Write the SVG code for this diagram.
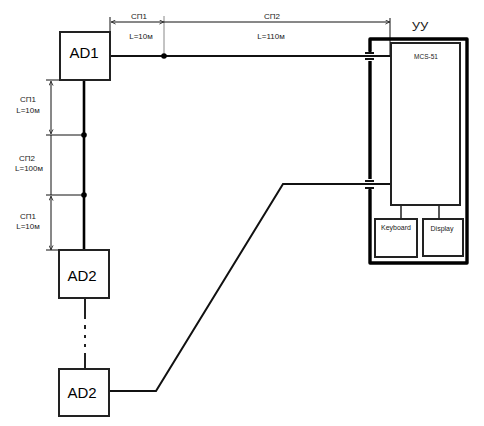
<svg xmlns="http://www.w3.org/2000/svg" width="484" height="426" viewBox="0 0 484 426">
<defs>
<marker id="a" viewBox="0 0 6 6" refX="6" refY="3" markerWidth="5" markerHeight="5" orient="auto-start-reverse"><path d="M0.5 0.5L5.5 3L0.5 5.5" fill="none" stroke="#222" stroke-width="1"/></marker>
</defs>
<style>
text{font-family:"Liberation Sans",Arial,sans-serif;fill:#222;text-anchor:middle}
.t{font-size:8px}
.n{font-size:15px;fill:#000}
.b{fill:#fff;stroke:#222;stroke-width:2}
.w{fill:none;stroke:#000;stroke-width:3.4;stroke-linecap:round;stroke-linejoin:round}
.d{fill:none;stroke:#111;stroke-width:1}
</style>
<rect width="484" height="426" fill="#fff"/>
<g id="connectors">
<path class="d" d="M110 17V32M390 18V56M46 80H84M46 135H84M46 195H84M46 250H60"/>
<path d="M164 16V56" fill="none" stroke="#888" stroke-width="1"/>
<path class="d" d="M111 22H164" marker-start="url(#a)" marker-end="url(#a)"/>
<path class="d" d="M164 22H390" marker-end="url(#a)"/>
<path class="d" d="M51 81V134" marker-start="url(#a)" marker-end="url(#a)"/>
<path class="d" d="M51 135V195"/>
<path class="d" d="M51 196V250" marker-start="url(#a)" marker-end="url(#a)"/>
<path d="M110 56H390" fill="none" stroke="#111" stroke-width="2.2"/>
<path d="M84 80V250" fill="none" stroke="#000" stroke-width="2.6"/>
<path d="M85 298V319M85 325V329M85 335V338M85 344V347M85 353V369" fill="none" stroke="#222" stroke-width="2"/>
<path d="M109 391H156L283 184H390" fill="none" stroke="#111" stroke-width="2"/>
<path d="M401 205V219M439 205V219" fill="none" stroke="#222" stroke-width="1.5"/>
<circle cx="164" cy="56" r="2.8" fill="#000"/>
<circle cx="84" cy="135" r="2.8" fill="#000"/>
<circle cx="84" cy="195" r="2.8" fill="#000"/>
</g>
<g id="dimension-labels">
<text class="t" x="139" y="19">СП1</text>
<text class="t" x="141" y="39">L=10м</text>
<text class="t" x="272" y="19">СП2</text>
<text class="t" x="271" y="39">L=110м</text>
<text class="t" x="28" y="102">СП1</text>
<text class="t" x="28" y="113">L=10м</text>
<text class="t" x="27" y="161">СП2</text>
<text class="t" x="29" y="171">L=100м</text>
<text class="t" x="28" y="219">СП1</text>
<text class="t" x="28" y="229">L=10м</text>
</g>
<g id="AD1"><rect class="b" x="60" y="32" width="50" height="48"/><text class="n" x="84" y="58">AD1</text></g>
<g id="AD2-1"><rect class="b" x="59" y="250" width="50" height="48"/><text class="n" x="82" y="281">AD2</text></g>
<g id="AD2-2"><rect class="b" x="59" y="369" width="50" height="47"/><text class="n" x="82" y="398">AD2</text></g>
<g id="UU">
<path class="w" d="M370 51V39H467V263H370V190"/>
<path d="M370 61V179" class="w" style="stroke-linecap:butt"/>
<path d="M365 53H374M365 59H374M365 181H374M365 188H374" fill="none" stroke="#111" stroke-width="2"/>
<text x="420" y="31" style="font-size:13px">УУ</text>
</g>
<g id="MCS-51"><rect class="b" x="391" y="43" width="69" height="162"/><text x="426" y="59" style="font-size:6.5px">MCS-51</text></g>
<g id="Keyboard"><rect class="b" x="375" y="219" width="42" height="38"/><text x="396" y="230" style="font-size:7px">Keyboard</text></g>
<g id="Display"><rect class="b" x="423" y="219" width="40" height="37"/><text x="442" y="231" style="font-size:7px">Display</text></g>
</svg>
